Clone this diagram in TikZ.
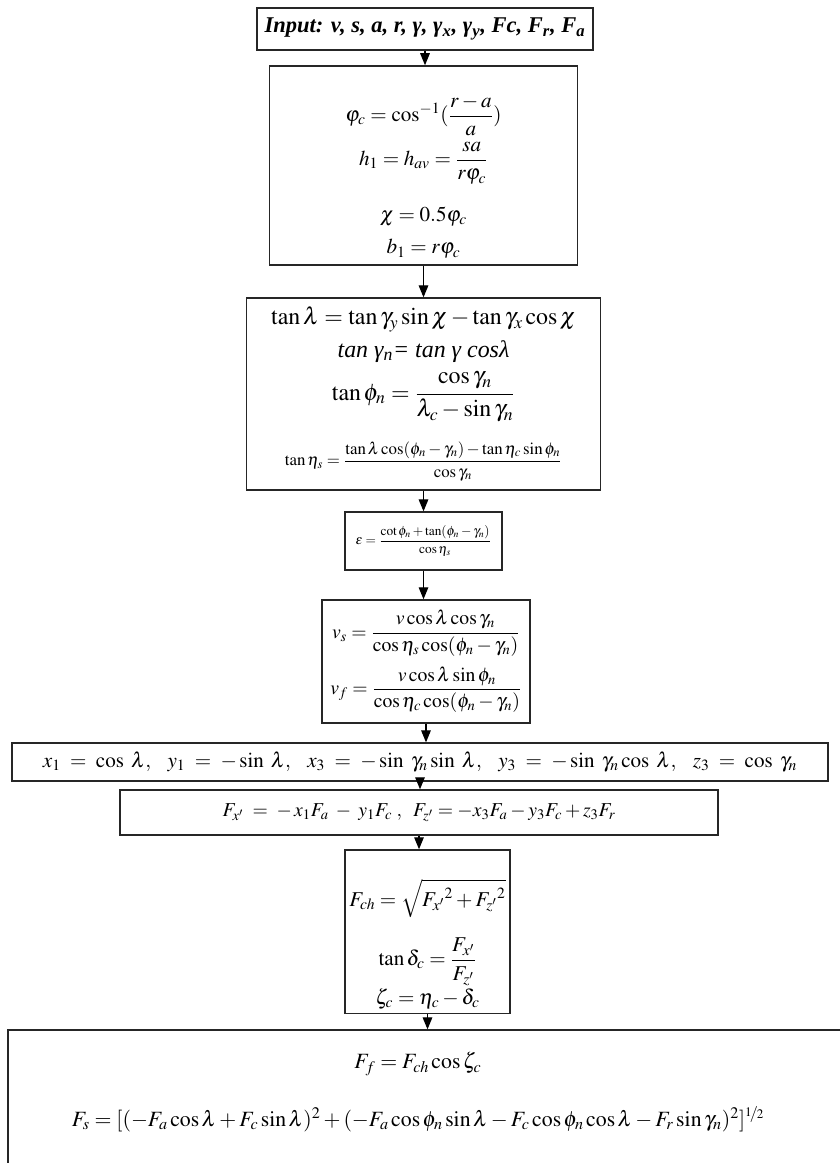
\documentclass[tikz,border=0pt]{standalone}
\usepackage{mathptmx}
\usepackage{amsmath}
\usepackage{nicefrac}
\usepackage{fontspec}
\setmainfont{Liberation Serif}
\usetikzlibrary{arrows.meta, positioning, calc}
\tikzstyle{process} = [rectangle, draw=black!85, line width=0.9pt, align=center, inner sep=0pt, font=\fontsize{14}{17}\selectfont]
\tikzstyle{arrow} = [line width=0.8pt, -{Triangle[length=3mm, width=2.4mm]}]
\begin{document}
\begin{tikzpicture}[x=0.025cm, y=-0.025cm]
\useasboundingbox (0,0) rectangle (840,1163);
% boxes, top to bottom
\node[process, minimum width=8.4cm, minimum height=1.05cm, font=\fontsize{16}{19}\selectfont] (input) at (425,29) {\textbf{\textit{Input: v, s, a, r, γ, γ\textsubscript{x}, γ\textsubscript{y}, Fc, F\textsubscript{r}, F\textsubscript{a}}}};
\node[process, minimum width=7.68cm, minimum height=4.98cm, font=\fontsize{15}{18}\selectfont] (geom) at (423.5,165.5) {\mbox{}\\[15pt]
    $\varphi_c = \cos^{-1}(\dfrac{r-a}{a})$\\[3pt]
    $h_1 = h_{av} = \dfrac{sa}{r\varphi_c}$\\[15pt]
    $\chi = 0.5\varphi_c$\\[5pt]
    $b_1 = r\varphi_c$};
\node[process, minimum width=8.83cm, minimum height=4.8cm, font=\fontsize{17}{20}\selectfont] (angles) at (423.5,394) {$\tan\lambda = \tan\gamma_y \sin\chi - \tan\gamma_x \cos\chi$\\[3pt]
    \textit{tan γ\textsubscript{n}= tan γ cosλ}\\[6pt]
    $\tan\phi_n = \dfrac{\cos\gamma_n}{\lambda_c - \sin\gamma_n}$\\[13pt]
    {\fontsize{12}{14}\selectfont $\tan\eta_s = \dfrac{\tan\lambda\cos(\phi_n-\gamma_n) - \tan\eta_c\sin\phi_n}{\cos\gamma_n}$}};
\node[process, minimum width=3.93cm, minimum height=1.45cm, font=\fontsize{9.5}{11}\selectfont] (eps) at (423.5,541) {$\varepsilon = \dfrac{\cot\phi_n + \tan(\phi_n-\gamma_n)}{\cos\eta_s}$};
\node[process, minimum width=5.2cm, minimum height=3.08cm] (speed) at (426,661.5) {$v_s = \dfrac{v\cos\lambda\cos\gamma_n}{\cos\eta_s\cos(\phi_n-\gamma_n)}$\\[6pt]
    $v_f = \dfrac{v\cos\lambda\sin\phi_n}{\cos\eta_c\cos(\phi_n-\gamma_n)}$};
\node[process, minimum width=20.4cm, minimum height=0.95cm, font=\fontsize{15}{18}\selectfont] (dircos) at (420,762) {$x_1 \;=\; \cos\;\lambda,\;\;\; y_1 \;=\; -\sin\;\lambda,\;\;\; x_3 \;=\; -\sin\;\gamma_n\sin\;\lambda,\;\;\; y_3 \;=\; -\sin\;\gamma_n\cos\;\lambda,\;\;\; z_3 \;=\; \cos\;\gamma_n$};
\node[process, minimum width=14.95cm, minimum height=1.13cm] (comp) at (419,812.5) {$F_{x'} \;=\; -\,x_1F_a \;-\; y_1F_c\;,\;\; F_{z'} = -x_3F_a - y_3F_c + z_3F_r$};
\node[process, minimum width=4.13cm, minimum height=4.08cm, font=\fontsize{15}{18}\selectfont] (chip) at (427.5,931.5) {\mbox{}\\[17pt]
    $F_{ch} = \sqrt{{F_{x'}}^2 + {F_{z'}}^2}$\\[13pt]
    $\tan\delta_c = \dfrac{F_{x'}}{F_{z'}}$\\[1pt]
    $\zeta_c = \eta_c - \delta_c$};
\node[process, minimum width=21.55cm, minimum height=4cm] (forces) at (439,1110) {};
\node[align=center, inner sep=0pt, font=\fontsize{15.5}{18.6}\selectfont] (forceseq) at (418,1092) {$F_f = F_{ch}\cos\zeta_c$\\[21pt]
    $F_s = [(-F_a\cos\lambda + F_c\sin\lambda)^2 + (-F_a\cos\phi_n\sin\lambda - F_c\cos\phi_n\cos\lambda - F_r\sin\gamma_n)^2]^{\nicefrac{1}{2}}$};
% arrows
\draw[arrow] (input.south) -- (input.south |- geom.north);
\draw[arrow] (geom.south) -- (geom.south |- angles.north);
\draw[arrow] (angles.south) -- (angles.south |- eps.north);
\draw[arrow] (eps.south) -- (eps.south |- speed.north);
\draw[arrow] (speed.south) -- (speed.south |- dircos.north);
\draw[arrow] (dircos.south) -- (dircos.south |- comp.north);
\draw[arrow] (comp.south) -- (comp.south |- chip.north);
\draw[arrow] (chip.south) -- (chip.south |- forces.north);
\end{tikzpicture}
\end{document}
